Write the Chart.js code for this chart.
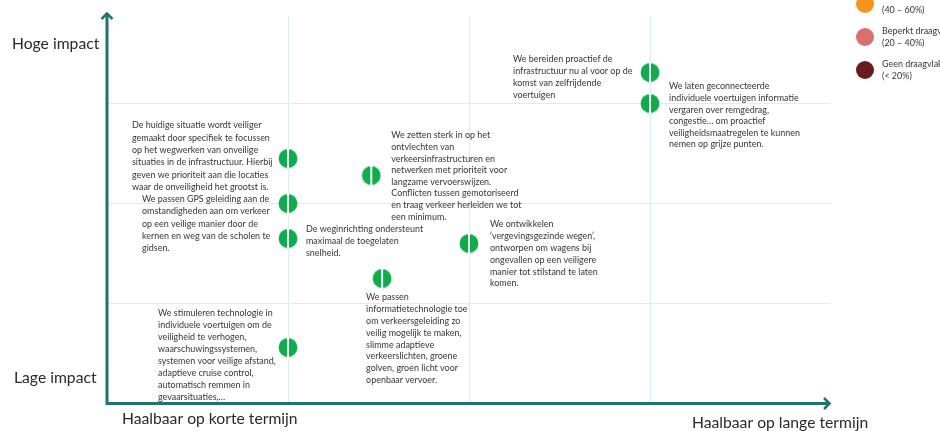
<!DOCTYPE html>
<html>
<head>
<meta charset="utf-8">
<script src="https://cdn.jsdelivr.net/npm/chart.js@4.4.1/dist/chart.umd.min.js"></script>
<style>
  html, body { margin: 0; padding: 0; background: #ffffff; }
  #wrap { position: relative; width: 940px; height: 431px; overflow: hidden; }
</style>
</head>
<body>
<div id="wrap"><canvas id="c" width="940" height="431"></canvas></div>
<script>
// ---- data ----
const feasibility = [1.0, 1.0, 1.0, 1.0, 1.46, 1.52, 2.0, 3.0, 3.0];
const impact      = [2.45, 2.0, 1.65, 0.56, 2.28, 1.25, 1.6, 3.31, 3.0];
const measureTexts = [
  ["De huidige situatie wordt veiliger", "gemaakt door specifiek te focussen", "op het wegwerken van onveilige", "situaties in de infrastructuur. Hierbij", "geven we prioriteit aan die locaties", "waar de onveiligheid het grootst is."],
  ["We passen GPS geleiding aan de", "omstandigheden aan om verkeer", "op een veilige manier door de", "kernen en weg van de scholen te", "gidsen."],
  ["De weginrichting ondersteunt", "maximaal de toegelaten", "snelheid."],
  ["We stimuleren technologie in", "individuele voertuigen om de", "veiligheid te verhogen,", "waarschuwingssystemen,", "systemen voor veilige afstand,", "adaptieve cruise control,", "automatisch remmen in", "gevaarsituaties,…"],
  ["We zetten sterk in op het", "ontvlechten van", "verkeersinfrastructuren en", "netwerken met prioriteit voor", "langzame vervoerswijzen.", "Conflicten tussen gemotoriseerd", "en traag verkeer herleiden we tot", "een minimum."],
  ["We passen", "informatietechnologie toe", "om verkeersgeleiding zo", "veilig mogelijk te maken,", "slimme adaptieve", "verkeerslichten, groene", "golven, groen licht voor", "openbaar vervoer."],
  ["We ontwikkelen", "‘vergevingsgezinde wegen’,", "ontworpen om wagens bij", "ongevallen op een veiligere", "manier tot stilstand te laten", "komen."],
  ["We bereiden proactief de", "infrastructuur nu al voor op de", "komst van zelfrijdende", "voertuigen"],
  ["We laten geconnecteerde", "individuele voertuigen informatie", "vergaren over remgedrag,", "congestie… om proactief", "veiligheidsmaatregelen te kunnen", "nemen op grijze punten."]
];
const yAxisLabels = ["Lage impact", "Hoge impact"];
const xAxisLabels = ["Haalbaar op korte termijn", "Haalbaar op lange termijn"];
const legendLabels = [["", "(40 – 60%)"], ["Beperkt draagvlak", "(20 – 40%)"], ["Geen draagvlak", "(< 20%)"]];

// ---- layout / style (not data) ----
const textOffsets = [[-156,-33],[-146,-4],[18,-9],[-130,-34],[20,-40],[-16,19],[21,-19],[-137,-13],[19,-17]];
const lineHeights = [12.3,12.1,12,12,11.6,11.8,11.8,12,11.6];
const legendColors = ["#f7941d", "#d9706f", "#6a1b1f"];
const axisColor = "#1f7470";
const gridColor = "#dceeed";
const green = "#0cae4c";
const smallFont = '8.95px Lato, "Open Sans", sans-serif';
const bigFont = '15.7px Lato, "Open Sans", sans-serif';

function makeMarker() {
  const c = document.createElement('canvas');
  c.width = 20; c.height = 20;
  const g = c.getContext('2d');
  g.fillStyle = green;
  g.beginPath(); g.arc(10, 10, 9.4, 0, Math.PI * 2); g.fill();
  g.fillStyle = '#ffffff';
  g.fillRect(9, 0, 2, 20);
  return c;
}
const marker = makeMarker();

const overlay = {
  id: 'overlay',
  afterDatasetsDraw(chart) {
    const ctx = chart.ctx;
    const area = chart.chartArea;
    const x0 = area.left, y0 = area.bottom;
    ctx.save();
    // axes with arrows
    ctx.strokeStyle = axisColor;
    ctx.lineWidth = 3;
    ctx.lineCap = 'butt';
    ctx.beginPath();
    ctx.moveTo(x0, y0 + 1.5); ctx.lineTo(x0, 13);
    ctx.moveTo(x0 - 1.5, y0); ctx.lineTo(830, y0);
    ctx.stroke();
    ctx.lineWidth = 2.5;
    ctx.lineJoin = 'miter';
    ctx.beginPath();
    ctx.moveTo(x0 - 5.5, 19); ctx.lineTo(x0, 13.5); ctx.lineTo(x0 + 5.5, 19);
    ctx.moveTo(824, y0 - 5.5); ctx.lineTo(829.5, y0); ctx.lineTo(824, y0 + 5.5);
    ctx.stroke();

    // axis labels
    ctx.fillStyle = '#2a2a2a';
    ctx.font = bigFont;
    ctx.textBaseline = 'middle';
    ctx.textAlign = 'left';
    ctx.fillText(yAxisLabels[1], 12, 44);
    ctx.fillText(yAxisLabels[0], 14, 378);
    ctx.fillText(xAxisLabels[0], 122, 419);
    ctx.fillText(xAxisLabels[1], 692, 423);

    // annotations
    const meta = chart.getDatasetMeta(0);
    ctx.fillStyle = '#353535';
    ctx.font = smallFont;
    meta.data.forEach((pt, i) => {
      const lines = measureTexts[i];
      const [dx, dy] = textOffsets[i];
      lines.forEach((ln, k) => {
        ctx.fillText(ln, pt.x + dx, pt.y + dy + k * lineHeights[i]);
      });
    });

    // legend
    legendColors.forEach((col, i) => {
      const cy = 4 + i * 33;
      ctx.fillStyle = col;
      ctx.beginPath(); ctx.arc(865, cy, 9, 0, Math.PI * 2); ctx.fill();
      ctx.fillStyle = '#353535';
      ctx.font = smallFont;
      legendLabels[i].forEach((t, k) => {
        if (t) ctx.fillText(t, 882, cy - 6 + k * 12);
      });
    });
    ctx.restore();
  }
};

new Chart(document.getElementById('c'), {
  type: 'scatter',
  data: {
    datasets: [{
      data: feasibility.map((x, i) => ({ x: x, y: impact[i] })),
      pointStyle: marker,
      pointRadius: 10,
      pointHoverRadius: 10
    }]
  },
  options: {
    responsive: false,
    animation: false,
    events: [],
    layout: { padding: { left: 107, right: 109, top: 16, bottom: 27.5 } },
    plugins: { legend: { display: false }, tooltip: { enabled: false } },
    scales: {
      x: {
        type: 'linear', min: 0, max: 4,
        afterBuildTicks: s => { s.ticks = [1, 2, 3].map(v => ({ value: v })); },
        ticks: { display: false },
        border: { display: false },
        grid: { color: gridColor, lineWidth: 1, drawTicks: false }
      },
      y: {
        type: 'linear', min: 0, max: 3.875,
        afterBuildTicks: s => { s.ticks = [1, 2, 3].map(v => ({ value: v })); },
        ticks: { display: false },
        border: { display: false },
        grid: { color: gridColor, lineWidth: 1, drawTicks: false }
      }
    }
  },
  plugins: [overlay]
});
</script>
</body>
</html>
